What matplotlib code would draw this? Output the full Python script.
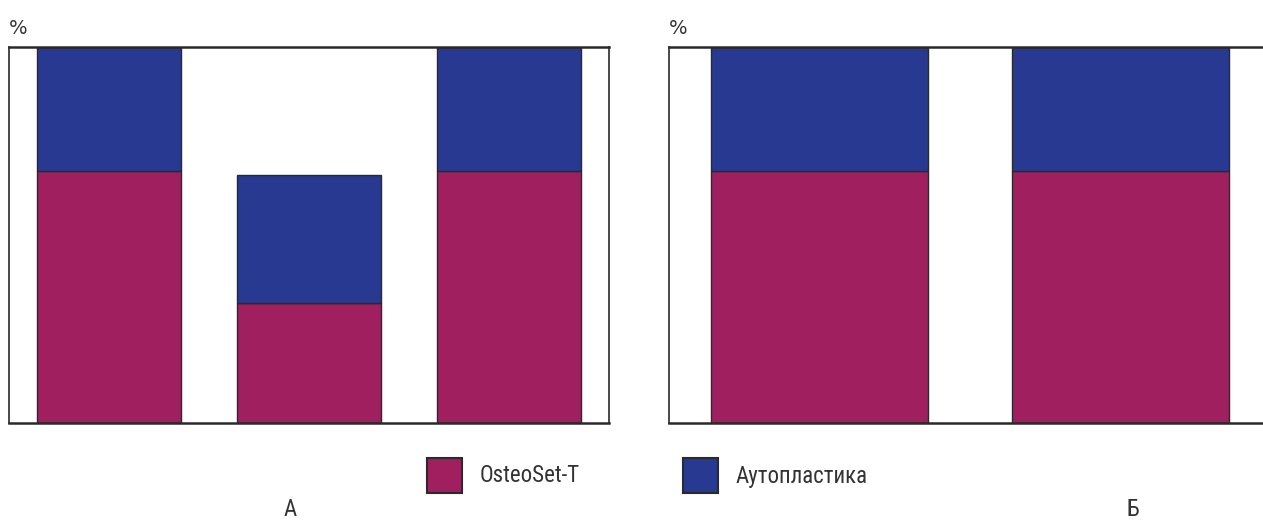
import numpy as np
import matplotlib.pyplot as plt
from matplotlib.patches import Rectangle

plt.rcParams['font.family'] = ['Roboto Condensed', 'Liberation Sans Narrow', 'DejaVu Sans']
plt.rcParams['font.stretch'] = 'condensed'

# данные (в %)
groups_a = [0, 1, 2]
osteoset_a = [67, 32, 67]
auto_a = [33, 34, 33]

groups_b = [0, 1]
osteoset_b = [67, 67]
auto_b = [33, 33]

series_labels = ["OsteoSet-T", "Аутопластика"]
c_osteo = "#A01F5F"
c_auto = "#273990"
edge = "#2a2a2a"
txt = "#333333"

W, H = 1263, 523
fig = plt.figure(figsize=(W / 100, H / 100), dpi=100)

ax_a = fig.add_axes([9 / W, 100 / H, 600 / W, 376 / H])
ax_b = fig.add_axes([669 / W, 100 / H, 602 / W, 376 / H])

for ax, x, o, a, xmax in [(ax_a, groups_a, osteoset_a, auto_a, 2.5),
                          (ax_b, groups_b, osteoset_b, auto_b, 1.5)]:
    ax.bar(x, o, width=0.72, color=c_osteo, edgecolor=edge, linewidth=1)
    ax.bar(x, a, width=0.72, bottom=o, color=c_auto, edgecolor=edge, linewidth=1)
    ax.set_xlim(-0.5, xmax)
    ax.set_ylim(0, 100)
    ax.set_xticks([])
    ax.set_yticks([])
    for s in ax.spines.values():
        s.set_color(edge)
        s.set_linewidth(1.2)
    ax.spines['top'].set_linewidth(1.8)
    ax.spines['bottom'].set_linewidth(1.8)

fs = 16.5
pct = dict(fontsize=14, va='center', ha='left', color=txt, family='DejaVu Sans', stretch='normal')
fig.text(9 / W, 1 - 28 / H, "%", **pct)
fig.text(669 / W, 1 - 28 / H, "%", **pct)
fig.text(290 / W, 1 - 509 / H, "А", fontsize=fs, va='center', ha='center', color=txt)
fig.text(1133 / W, 1 - 509 / H, "Б", fontsize=fs, va='center', ha='center', color=txt)

# легенда
for x0, col, lab in [(427, c_osteo, series_labels[0]), (683, c_auto, series_labels[1])]:
    fig.add_artist(Rectangle((x0 / W, 1 - 493 / H), 35 / W, 35 / H, transform=fig.transFigure,
                             facecolor=col, edgecolor=edge, linewidth=1.5))
    fig.text((x0 + 53) / W, 1 - 476 / H, lab, fontsize=fs, va='center', ha='left', color=txt)

fig.savefig("out.png", dpi=100)
